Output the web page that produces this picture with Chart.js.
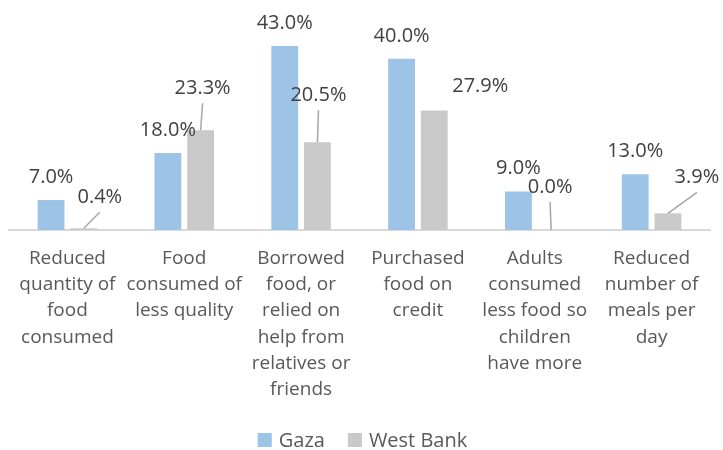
<!DOCTYPE html>
<html>
<head>
<meta charset="utf-8">
<script src="https://cdn.jsdelivr.net/npm/chart.js@4"></script>
<style>
  html, body { margin: 0; padding: 0; background: #fff; }
  #wrap { width: 723px; height: 450px; }
</style>
</head>
<body>
<div id="wrap"><canvas id="chart" width="723" height="450"></canvas></div>
<script>
// 데이터
const categories = [
    ['Reduced', 'quantity of', 'food', 'consumed'],
    ['Food', 'consumed of', 'less quality'],
    ['Borrowed', 'food, or', 'relied on', 'help from', 'relatives or', 'friends'],
    ['Purchased', 'food on', 'credit'],
    ['Adults', 'consumed', 'less food so', 'children', 'have more'],
    ['Reduced', 'number of', 'meals per', 'day']
];
const gazaValues = [7.0, 18.0, 43.0, 40.0, 9.0, 13.0];
const westBankValues = [0.4, 23.3, 20.5, 27.9, 0.0, 3.9];

// West Bank 라벨 위치 (막대 위 기준 오프셋, 지시선 여부)
const wbLabelOffset = [
    { dx: 16, dy: -31, line: true },
    { dx: 2, dy: -42, line: true },
    { dx: 1, dy: -47, line: true },
    { dx: 46, dy: -24, line: false },
    { dx: -1, dy: -43, line: true },
    { dx: 29, dy: -36, line: true }
];

const FONT = '"Open Sans", "Noto Sans", sans-serif';

// 데이터 라벨 + 범례 그리기
const valueLabels = {
    id: 'valueLabels',
    afterDatasetsDraw(chart) {
        const ctx = chart.ctx;
        ctx.save();
        ctx.font = '20px ' + FONT;
        ctx.fillStyle = '#404040';
        ctx.textAlign = 'center';
        ctx.textBaseline = 'middle';

        chart.getDatasetMeta(0).data.forEach((bar, i) => {
            ctx.fillText(gazaValues[i].toFixed(1) + '%', bar.x, bar.y - 23);
        });

        chart.getDatasetMeta(1).data.forEach((bar, i) => {
            const off = wbLabelOffset[i];
            const lx = bar.x + off.dx;
            const ly = bar.y + off.dy;
            ctx.fillText(westBankValues[i].toFixed(1) + '%', lx, ly);
            if (off.line) {
                ctx.beginPath();
                ctx.strokeStyle = '#A6A6A6';
                ctx.lineWidth = 1.5;
                ctx.moveTo(lx, ly + 15);
                ctx.lineTo(bar.x, bar.y);
                ctx.stroke();
            }
        });
        ctx.restore();
    },
    afterDraw(chart) {
        // 범례 (하단 중앙)
        const ctx = chart.ctx;
        const sets = chart.data.datasets;
        const box = 14, gap = 7, spacing = 23, y = 440;
        ctx.save();
        ctx.font = '20px ' + FONT;
        ctx.textBaseline = 'middle';
        ctx.textAlign = 'left';
        const widths = sets.map(ds => box + gap + ctx.measureText(ds.label).width);
        const total = widths.reduce((a, b) => a + b, 0) + spacing * (sets.length - 1);
        let x = chart.width / 2 + 1 - total / 2;
        sets.forEach((ds, i) => {
            ctx.fillStyle = ds.backgroundColor;
            ctx.fillRect(x, y - box / 2, box, box);
            ctx.fillStyle = '#595959';
            ctx.fillText(ds.label, x + box + gap, y + 1);
            x += widths[i] + spacing;
        });
        ctx.restore();
    }
};

const ctx = document.getElementById('chart').getContext('2d');
const chart = new Chart(ctx, {
    type: 'bar',
    data: {
        labels: categories,
        datasets: [
            {
                label: 'Gaza',
                data: gazaValues,
                backgroundColor: '#9DC3E6',
                barPercentage: 0.82,
                categoryPercentage: 0.56
            },
            {
                label: 'West Bank',
                data: westBankValues,
                backgroundColor: '#C9C9C9',
                barPercentage: 0.82,
                categoryPercentage: 0.56
            }
        ]
    },
    options: {
        responsive: false,
        animation: false,
        layout: { padding: { top: 16, left: 9, right: 13, bottom: 52 } },
        plugins: {
            legend: { display: false },
            tooltip: { enabled: false }
        },
        scales: {
            x: {
                grid: { display: false, drawTicks: false },
                border: { color: '#D9D9D9', width: 2 },
                ticks: {
                    font: { family: FONT, size: 19, lineHeight: 1.37 },
                    color: '#595959',
                    padding: 16,
                    maxRotation: 0,
                    autoSkip: false
                },
                afterFit(scale) { scale.height = 168; }
            },
            y: {
                display: false,
                min: 0,
                max: 50
            }
        }
    },
    plugins: [valueLabels]
});
</script>
</body>
</html>
